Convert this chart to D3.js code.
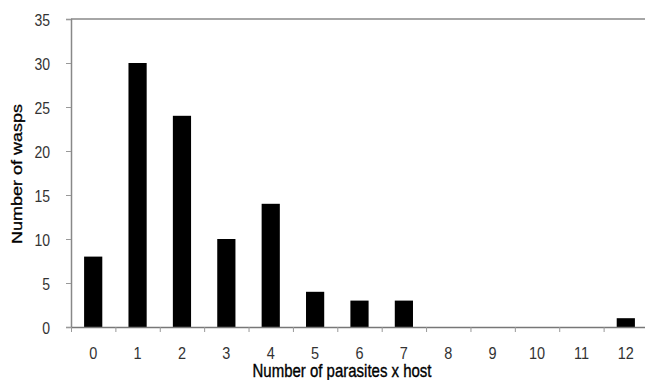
<!DOCTYPE html>
<html>
<head>
<meta charset="utf-8">
<script src="https://cdn.jsdelivr.net/npm/d3@7"></script>
<style>
  body { margin: 0; background: #fff; }
  svg { display: block; font-family: "Liberation Sans", Arial, sans-serif; }
</style>
</head>
<body>
<div id="chart"></div>
<script>
// data
var categories = ["0", "1", "2", "3", "4", "5", "6", "7", "8", "9", "10", "11", "12"];
var wasps = [8, 30, 24, 10, 14, 4, 3, 3, 0, 0, 0, 0, 1];
var yTicks = [0, 5, 10, 15, 20, 25, 30, 35];

var width = 645, height = 380;
// plot edges (right edge runs past the picture, as in the original)
var plotLeft = 71, plotRight = 648, plotTop = 19, plotBottom = 327;

var svg = d3.select("#chart").append("svg")
  .attr("width", width)
  .attr("height", height);

var x = d3.scaleBand()
  .domain(categories)
  .range([plotLeft, plotRight])
  .paddingInner(0.59)
  .paddingOuter(0.295);

// edges between categories, for the tick marks
var xEdge = d3.scaleLinear().domain([0, categories.length]).range([plotLeft, plotRight]);

var y = d3.scaleLinear().domain([0, 35]).range([plotBottom, plotTop]);

// top frame line
svg.append("line")
  .attr("x1", plotLeft).attr("x2", width)
  .attr("y1", y(35)).attr("y2", y(35))
  .attr("stroke", "#888").attr("stroke-width", 1.5);

// bars
svg.selectAll("rect.bar")
  .data(wasps)
  .enter()
  .append("rect")
  .attr("class", "bar")
  .attr("x", (d, i) => x(categories[i]))
  .attr("y", (d) => y(d))
  .attr("width", x.bandwidth())
  .attr("height", (d) => y(0) - y(d))
  .attr("fill", "#000");

// y axis
var yAxis = svg.append("g")
  .attr("transform", "translate(" + plotLeft + ",0)")
  .call(d3.axisLeft(y).tickValues(yTicks).tickSize(5).tickPadding(16));
yAxis.select(".domain").attr("stroke", "#888").attr("stroke-width", 1.5);
yAxis.selectAll(".tick line").attr("stroke", "#999");
yAxis.selectAll("text")
  .attr("fill", "#333")
  .style("font-size", "14px")
  .attr("dy", "0.358em")
  .attr("transform", "scale(1,1.2)");

// x axis: tick marks at edges
var xTickAxis = svg.append("g")
  .attr("transform", "translate(0," + plotBottom + ")")
  .call(d3.axisBottom(xEdge).tickValues(d3.range(categories.length + 1)).tickFormat("").tickSizeInner(5).tickSizeOuter(0));
xTickAxis.select(".domain").attr("stroke", "#777").attr("stroke-width", 1.5);
xTickAxis.selectAll(".tick line").attr("stroke", "#999");

// x axis: labels at band centres
var xAxis = svg.append("g")
  .attr("transform", "translate(0," + plotBottom + ")")
  .call(d3.axisBottom(x).tickSize(0));
xAxis.select(".domain").remove();
xAxis.selectAll("text")
  .attr("fill", "#333")
  .style("font-size", "14.5px")
  .attr("y", 0)
  .attr("dy", 0)
  .attr("transform", "translate(0,32) scale(1,1.2)");

// axis titles
svg.append("text")
  .attr("transform", "translate(342,377) scale(1,1.2)")
  .attr("text-anchor", "middle")
  .attr("fill", "#000")
  .attr("stroke", "#000")
  .attr("stroke-width", 0.3)
  .style("font-size", "15px")
  .text("Number of parasites x host");

svg.append("text")
  .attr("transform", "translate(22,174) scale(1,1.2) rotate(-90)")
  .attr("text-anchor", "middle")
  .attr("fill", "#000")
  .attr("stroke", "#000")
  .attr("stroke-width", 0.3)
  .style("font-size", "15px")
  .text("Number of wasps");
</script>
</body>
</html>
